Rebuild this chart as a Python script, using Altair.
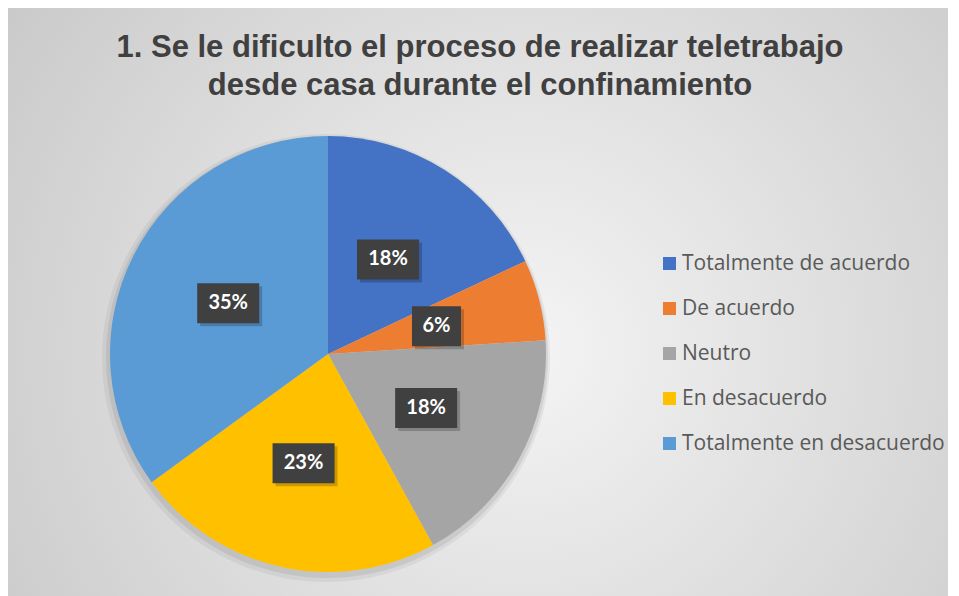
import altair as alt
import pandas as pd

# ---- data ----
categories = ["Totalmente de acuerdo", "De acuerdo", "Neutro", "En desacuerdo", "Totalmente en desacuerdo"]
values = [18, 6, 18, 23, 35]
labels = ["18%", "6%", "18%", "23%", "35%"]
colors = ["#4472C4", "#ED7D31", "#A5A5A5", "#FFC000", "#5B9BD5"]
title_lines = ["1. Se le dificulto el proceso de realizar teletrabajo",
               "desde casa durante el confinamiento"]

df = pd.DataFrame({"cat": categories, "val": values, "lab": labels, "idx": list(range(len(values)))})

# ---- layout ----
W, H = 940, 588
CX, CY, R, LR = 320, 346, 218, 112

one = alt.Data(values=[{"a": 1}])

bg = alt.Chart(one).mark_rect(
    color=alt.RadialGradient(
        gradient="radial",
        stops=[alt.GradientStop(color="#f4f4f4", offset=0),
               alt.GradientStop(color="#c4c4c4", offset=1)],
        x1=0.55, y1=0.55, r1=0, x2=0.55, y2=0.55, r2=0.75,
    )
).encode(x=alt.value(0), x2=alt.value(W), y=alt.value(0), y2=alt.value(H))

title = alt.Chart(one).mark_text(
    text=title_lines, font="Liberation Sans, Arial, sans-serif",
    fontSize=31, fontWeight="bold", color="#404040", align="center", baseline="alphabetic",
    lineHeight=38,
).encode(x=alt.value(472), y=alt.value(49))

shadow1 = alt.Chart(one).mark_arc(theta=0, theta2=6.2832, radius=R + 6, color="#000000", opacity=0.05).encode(
    x=alt.value(CX - 2), y=alt.value(CY + 4))
shadow2 = alt.Chart(one).mark_arc(theta=0, theta2=6.2832, radius=R + 3, color="#000000", opacity=0.07).encode(
    x=alt.value(CX - 1), y=alt.value(CY + 3))

base = alt.Chart(df)

pie = base.mark_arc(radius=R, strokeWidth=0).encode(
    theta=alt.Theta("val:Q", stack=True),
    color=alt.Color(
        "cat:N",
        scale=alt.Scale(domain=categories, range=colors),
        sort=categories,
        title=None,
        legend=alt.Legend(
            orient="none", legendX=651, legendY=245, padding=0,
            symbolType="square", symbolSize=169, symbolStrokeWidth=0,
            labelFont="Open Sans", labelFontSize=21, labelColor="#595959",
            labelOffset=2, rowPadding=23, labelLimit=400,
        ),
    ),
    order=alt.Order("idx:Q"),
    x=alt.value(CX), y=alt.value(CY),
)

lab = base.transform_joinaggregate(total="sum(val)").transform_window(
    cum="sum(val)", sort=[alt.SortField("idx")], frame=[None, 0]
).transform_calculate(
    mid="(datum.cum - datum.val/2)/datum.total*2*PI",
    bw="13*length(datum.lab) + 23",
).transform_calculate(
    lx=f"{CX} + {LR}*sin(datum.mid)",
    ly=f"{CY} - {LR}*cos(datum.mid)",
).transform_calculate(
    bx1="datum.lx - datum.bw/2", bx2="datum.lx + datum.bw/2",
    by1="datum.ly - 20", by2="datum.ly + 20",
    sx1="datum.lx - datum.bw/2 + 3", sx2="datum.lx + datum.bw/2 + 3",
    sy1="datum.ly - 17", sy2="datum.ly + 23",
)

box_shadow = lab.mark_rect(color="#000000", opacity=0.2).encode(
    x=alt.X("sx1:Q", scale=None, axis=None), x2="sx2:Q",
    y=alt.Y("sy1:Q", scale=None, axis=None), y2="sy2:Q")
box = lab.mark_rect(color="#404040", opacity=1).encode(
    x=alt.X("bx1:Q", scale=None, axis=None), x2="bx2:Q",
    y=alt.Y("by1:Q", scale=None, axis=None), y2="by2:Q")
txt = lab.mark_text(font="Lato", fontSize=20, fontWeight="bold", color="white",
                    align="center", baseline="middle").encode(
    x=alt.X("lx:Q", scale=None, axis=None), y=alt.Y("ly:Q", scale=None, axis=None), text="lab:N")

chart = alt.layer(bg, title, shadow1, shadow2, pie, box_shadow, box, txt).properties(
    width=W, height=H, autosize=alt.AutoSizeParams(type="none"), padding=0
).configure_view(stroke=None)

chart.save("out.html", embed_options={"renderer": "svg", "actions": False})
